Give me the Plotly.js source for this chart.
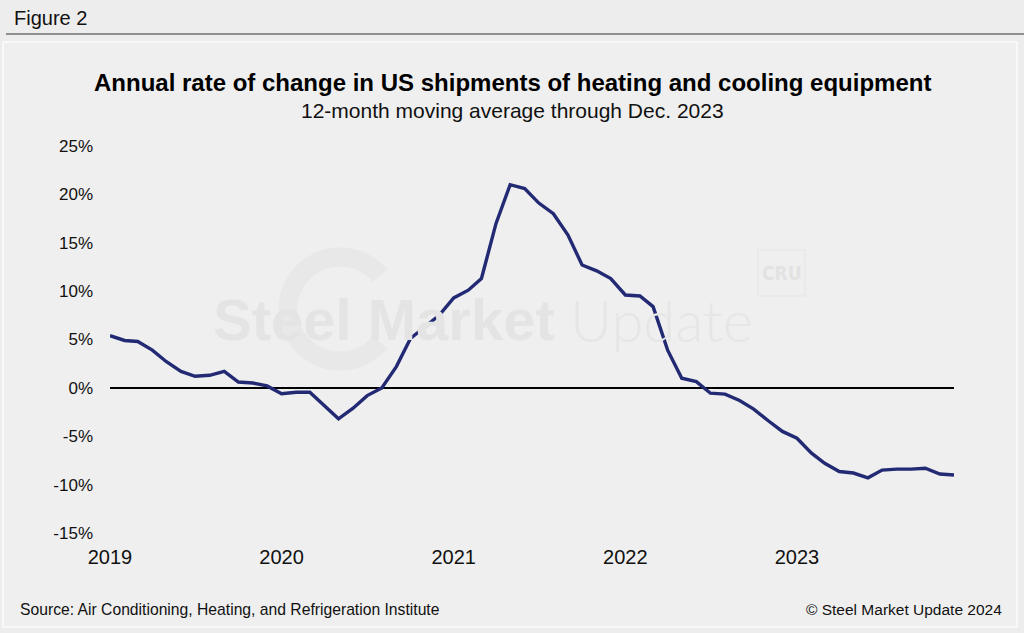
<!DOCTYPE html>
<html>
<head>
<meta charset="utf-8">
<script src="https://cdn.plot.ly/plotly-3.0.1.min.js"></script>
<style>
html,body{margin:0;padding:0;background:#ededed;}
#chart{width:1024px;height:633px;}
</style>
</head>
<body>
<div id="chart"></div>
<script>
// ---- data ----
var years = [2019, 2020, 2021, 2022, 2023];
var values2019 = [5.4, 4.9, 4.8, 3.9, 2.7, 1.7, 1.2, 1.3, 1.7, 0.6, 0.5, 0.2];
var values2020 = [-0.6, -0.45, -0.45, -1.8, -3.2, -2.1, -0.8, 0.0, 2.2, 5.1, 6.3, 7.5];
var values2021 = [9.3, 10.1, 11.3, 17.0, 21.0, 20.6, 19.1, 18.0, 15.8, 12.7, 12.1, 11.3];
var values2022 = [9.6, 9.5, 8.4, 3.9, 1.0, 0.65, -0.55, -0.65, -1.3, -2.2, -3.4, -4.5];
var values2023 = [-5.2, -6.75, -7.8, -8.65, -8.8, -9.3, -8.5, -8.4, -8.4, -8.3, -8.9, -9.0];
var yTicks = [-15, -10, -5, 0, 5, 10, 15, 20, 25];
var xTickLabels = ["2019", "2020", "2021", "2022", "2023"];

var series = [values2019, values2020, values2021, values2022, values2023];
var dates = [], vals = [];
years.forEach(function (y, i) {
  series[i].forEach(function (v, m) {
    dates.push(y + "-" + (m + 1 < 10 ? "0" : "") + (m + 1) + "-01");
    vals.push(v);
  });
});

// ---- layout helpers (pixel -> paper) ----
var L = 110, R = 954, T = 146, B = 533;
function px(x) { return (x - L) / (R - L); }
function py(y) { return (B - y) / (B - T); }

var FONT = "Liberation Sans, Arial, Helvetica, sans-serif";

// watermark ring (C shape)
var cx = 340, cy = 309, rr = 52, pts = [];
for (var a = 40; a <= 320; a += 5) {
  var rad = a * Math.PI / 180;
  pts.push(px(cx + rr * Math.cos(rad)).toFixed(5) + "," + py(cy - rr * Math.sin(rad)).toFixed(5));
}
var ringPath = "M" + pts.join(" L");

var trace = {
  x: dates, y: vals, type: "scatter", mode: "lines",
  line: { color: "#232a74", width: 3.4 },
  hoverinfo: "x+y"
};

var layout = {
  width: 1024, height: 633,
  margin: { l: L, r: 1024 - R, t: T, b: 633 - B },
  paper_bgcolor: "#ededed",
  plot_bgcolor: "rgba(0,0,0,0)",
  showlegend: false,
  font: { family: FONT, color: "#111" },
  xaxis: {
    type: "date",
    range: [dates[0], dates[dates.length - 1]],
    tickvals: years.map(function (y) { return y + "-01-01"; }),
    ticktext: xTickLabels,
    ticks: "", showgrid: false, zeroline: false, showline: false,
    tickfont: { size: 20, family: FONT, color: "#111" },
    ticklabelstandoff: 10
  },
  yaxis: {
    range: [-15, 25],
    tickvals: yTicks,
    ticktext: yTicks.map(function (v) { return v + "%"; }),
    ticks: "", showgrid: false, showline: false,
    zeroline: true, zerolinecolor: "#000", zerolinewidth: 1.6,
    tickfont: { size: 17, family: FONT, color: "#111" },
    ticklabelstandoff: 16
  },
  shapes: [
    { type: "rect", xref: "paper", yref: "paper", layer: "below",
      x0: px(3), x1: px(1017), y0: py(42), y1: py(627),
      fillcolor: "#efefef", line: { color: "#fbfbfb", width: 1.5 } },
    { type: "line", xref: "paper", yref: "paper",
      x0: px(6), x1: px(1024), y0: py(34), y1: py(34),
      line: { color: "#333", width: 1 } },
    { type: "path", xref: "paper", yref: "paper", layer: "below",
      path: ringPath, line: { color: "#e8e8e8", width: 19 } },
    { type: "rect", xref: "paper", yref: "paper", layer: "below",
      x0: px(758), x1: px(805), y0: py(250), y1: py(296),
      fillcolor: "rgba(0,0,0,0)", line: { color: "#e6e6e6", width: 1.2 } }
  ],
  annotations: [
    { text: "Figure 2", xref: "paper", yref: "paper", x: px(12), y: py(18),
      xanchor: "left", yanchor: "middle", showarrow: false,
      font: { size: 20, family: FONT, color: "#111" } },
    { text: "<b>Annual rate of change in US shipments of heating and cooling equipment</b>",
      xref: "paper", yref: "paper", x: px(512), y: py(83),
      xanchor: "center", yanchor: "middle", showarrow: false,
      font: { size: 24, family: FONT, color: "#000" } },
    { text: "12-month moving average through Dec. 2023",
      xref: "paper", yref: "paper", x: px(512), y: py(111),
      xanchor: "center", yanchor: "middle", showarrow: false,
      font: { size: 21, family: FONT, color: "#111" } },
    { text: "<b>Steel Market</b>", xref: "paper", yref: "paper", x: px(557), y: py(319),
      xanchor: "right", yanchor: "middle", showarrow: false,
      font: { size: 58, family: FONT, color: "#e4e4e4" } },
    { text: "Update", xref: "paper", yref: "paper", x: px(568), y: py(319),
      xanchor: "left", yanchor: "middle", showarrow: false,
      font: { size: 58, family: "Lato, Liberation Sans, Arial, sans-serif", weight: 300, color: "#e6e6e6" } },
    { text: "<b>CRU</b>", xref: "paper", yref: "paper", x: px(781.5), y: py(273),
      xanchor: "center", yanchor: "middle", showarrow: false,
      font: { size: 19, family: "DejaVu Sans Condensed, Liberation Sans Narrow, sans-serif", color: "#e2e2e2" } },
    { text: "Source: Air Conditioning, Heating, and Refrigeration Institute",
      xref: "paper", yref: "paper", x: px(18), y: py(609),
      xanchor: "left", yanchor: "middle", showarrow: false,
      font: { size: 15.7, family: FONT, color: "#111" } },
    { text: "© Steel Market Update 2024",
      xref: "paper", yref: "paper", x: px(1004), y: py(609),
      xanchor: "right", yanchor: "middle", showarrow: false,
      font: { size: 15.5, family: FONT, color: "#111" } }
  ]
};

Plotly.newPlot("chart", [trace], layout, { displayModeBar: false, staticPlot: true });
</script>
</body>
</html>
